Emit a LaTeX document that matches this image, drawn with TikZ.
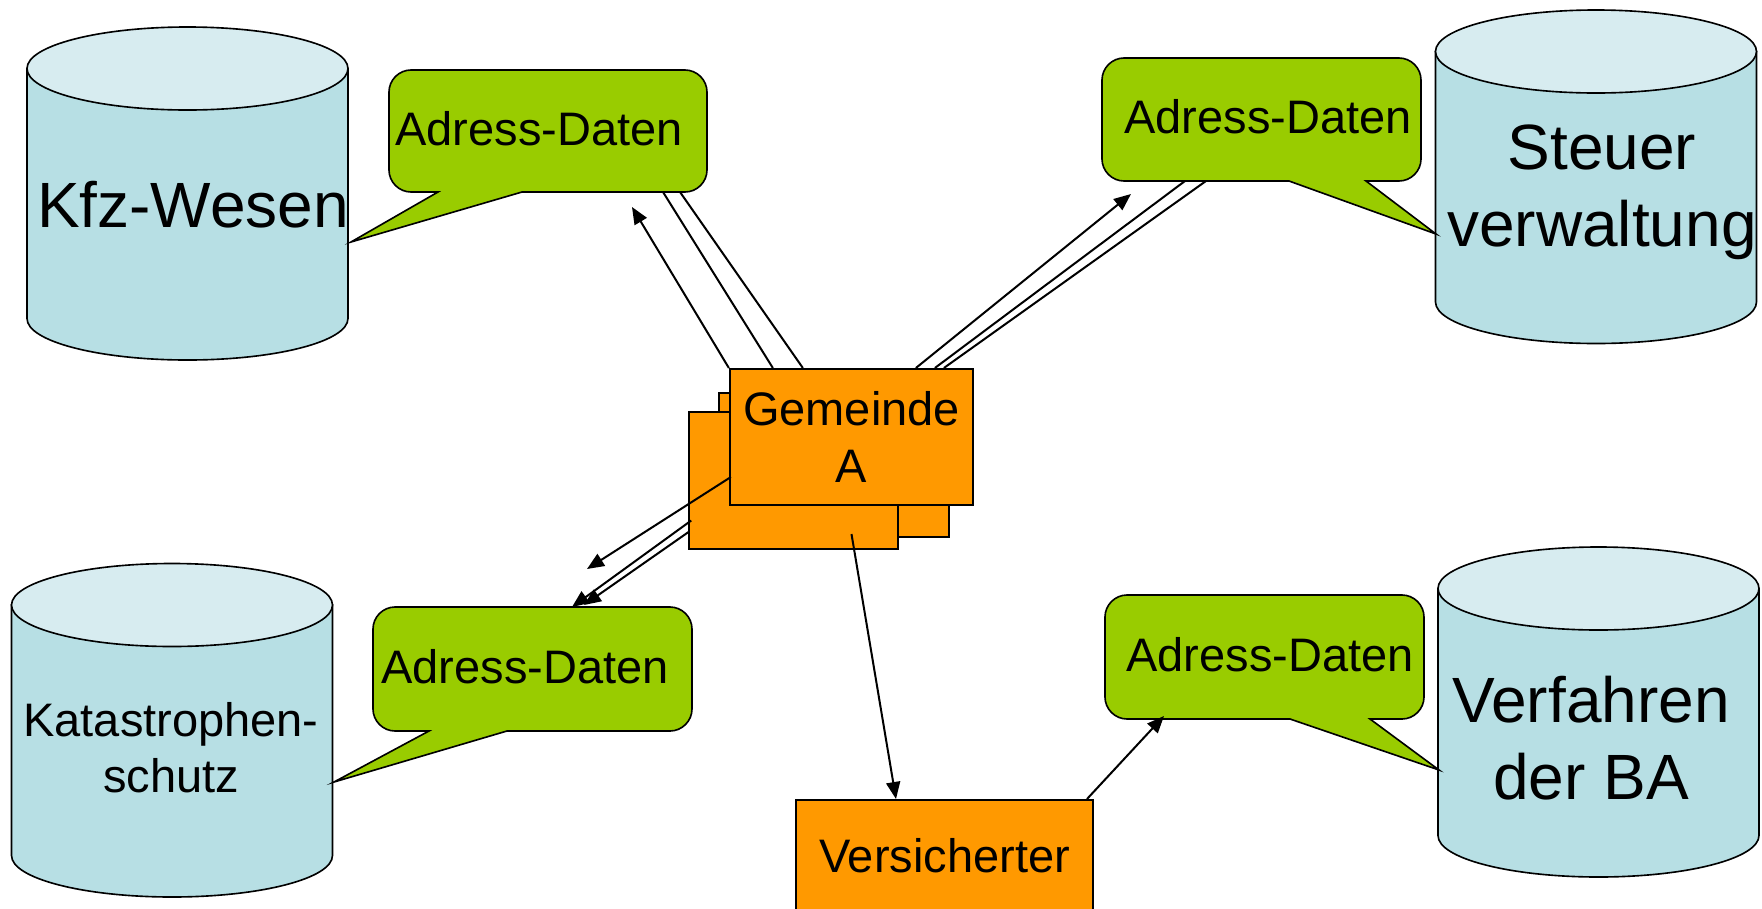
\documentclass[tikz,border=0pt]{standalone}
\usepackage{fontspec}
\setmainfont{Liberation Sans}
\usepackage{tikz}
\usetikzlibrary{calc,arrows.meta}
\definecolor{canbody}{RGB}{183,223,228}
\definecolor{cantop}{RGB}{215,236,240}
\definecolor{bubblegreen}{RGB}{153,204,0}
\definecolor{boxorange}{RGB}{255,153,0}
\tikzset{every picture/.style={line width=0.8pt}}
\tikzset{
  can body/.style={fill=canbody,draw=black,line width=0.65pt},
  can top/.style={fill=cantop,draw=black,line width=0.65pt},
  bubble/.style={fill=bubblegreen,draw=black,line width=0.65pt},
  gembox/.style={rectangle,fill=boxorange,draw=black,inner sep=0pt,align=center,font=\fontsize{18.8}{22.8}\selectfont},
  big text/.style={inner sep=0pt,align=center,font=\fontsize{25.6}{30.8}\selectfont},
  small text/.style={inner sep=0pt,align=center,font=\fontsize{18.8}{22.4}\selectfont},
  wire/.style={draw=black},
  wire arrow/.style={draw=black,-{Triangle[length=6.8pt,width=5.6pt]}},
}

\begin{document}
\begin{tikzpicture}[x=0.4pt,y=0.4pt,yscale=-1,xscale=1]

\useasboundingbox (0,0) rectangle (1762,908);

%Shape: Can
                \draw [can body] (27,68.5) -- (27,318.5) .. controls (27,341.42) and (98.86,360) .. (187.5,360) .. controls (276.14,360) and (348,341.42) .. (348,318.5) -- (348,68.5) -- cycle ;
                \draw [can top] (348,68.5) .. controls (348,91.42) and (276.14,110) .. (187.5,110) .. controls (98.86,110) and (27,91.42) .. (27,68.5) .. controls (27,45.58) and (98.86,27) .. (187.5,27) .. controls (276.14,27) and (348,45.58) .. (348,68.5) -- cycle ;
%Shape: Can
                \draw [can body] (1435.5,51.5) -- (1435.5,302) .. controls (1435.5,324.92) and (1507.36,343.5) .. (1596,343.5) .. controls (1684.64,343.5) and (1756.5,324.92) .. (1756.5,302) -- (1756.5,51.5) -- cycle ;
                \draw [can top] (1756.5,51.5) .. controls (1756.5,74.42) and (1684.64,93) .. (1596,93) .. controls (1507.36,93) and (1435.5,74.42) .. (1435.5,51.5) .. controls (1435.5,28.58) and (1507.36,10) .. (1596,10) .. controls (1684.64,10) and (1756.5,28.58) .. (1756.5,51.5) -- cycle ;
%Shape: Can
                \draw [can body] (11.5,605) -- (11.5,855.5) .. controls (11.5,878.42) and (83.36,897) .. (172,897) .. controls (260.64,897) and (332.5,878.42) .. (332.5,855.5) -- (332.5,605) -- cycle ;
                \draw [can top] (332.5,605) .. controls (332.5,627.92) and (260.64,646.5) .. (172,646.5) .. controls (83.36,646.5) and (11.5,627.92) .. (11.5,605) .. controls (11.5,582.08) and (83.36,563.5) .. (172,563.5) .. controls (260.64,563.5) and (332.5,582.08) .. (332.5,605) -- cycle ;
%Shape: Can
                \draw [can body] (1438,588.5) -- (1438,835.5) .. controls (1438,858.42) and (1509.86,877) .. (1598.5,877) .. controls (1687.14,877) and (1759,858.42) .. (1759,835.5) -- (1759,588.5) -- cycle ;
                \draw [can top] (1759,588.5) .. controls (1759,611.42) and (1687.14,630) .. (1598.5,630) .. controls (1509.86,630) and (1438,611.42) .. (1438,588.5) .. controls (1438,565.58) and (1509.86,547) .. (1598.5,547) .. controls (1687.14,547) and (1759,565.58) .. (1759,588.5) -- cycle ;

%Shape: Callout
                \draw [bubble] (411,70) -- (685,70) .. controls (697,70) and (707,80) .. (707,92) -- (707,170) .. controls (707,182) and (697,192) .. (685,192) -- (522,192) -- (351,242) -- (438,192) -- (411,192) .. controls (399,192) and (389,182) .. (389,170) -- (389,92) .. controls (389,80) and (399,70) .. (411,70) -- cycle ;
%Shape: Callout
                \draw [bubble] (1124,58) -- (1399,58) .. controls (1411,58) and (1421,68) .. (1421,80) -- (1421,159) .. controls (1421,171) and (1411,181) .. (1399,181) -- (1366,181) -- (1436,234) -- (1289,181) -- (1124,181) .. controls (1112,181) and (1102,171) .. (1102,159) -- (1102,80) .. controls (1102,68) and (1112,58) .. (1124,58) -- cycle ;
%Shape: Callout
                \draw [bubble] (395,607) -- (670,607) .. controls (682,607) and (692,617) .. (692,629) -- (692,709) .. controls (692,721) and (682,731) .. (670,731) -- (507,731) -- (334,782) -- (429,731) -- (395,731) .. controls (383,731) and (373,721) .. (373,709) -- (373,629) .. controls (373,617) and (383,607) .. (395,607) -- cycle ;
%Shape: Callout
                \draw [bubble] (1127,595) -- (1402,595) .. controls (1414,595) and (1424,605) .. (1424,617) -- (1424,697) .. controls (1424,709) and (1414,719) .. (1402,719) -- (1370,719) -- (1439,770) -- (1290,719) -- (1127,719) .. controls (1115,719) and (1105,709) .. (1105,697) -- (1105,617) .. controls (1105,605) and (1115,595) .. (1127,595) -- cycle ;

% Text Node
                \node [big text] (kfzLbl) at (193,205) {Kfz-Wesen};
% Text Node
                \node [big text] (steuerLbl) at (1602,192) {Steuer\\verwaltung};
% Text Node
                \node [small text] (katLbl) at (171,748) {Katastrophen-\\schutz};
% Text Node
                \node [big text] (baLbl) at (1591,738) {Verfahren\\der BA};
% Text Node
                \node [small text] (datKfz) at (539,129) {Adress-Daten};
% Text Node
                \node [small text] (datSteuer) at (1268,117) {Adress-Daten};
% Text Node
                \node [small text] (datKat) at (525,667) {Adress-Daten};
% Text Node
                \node [small text] (datBA) at (1270,655) {Adress-Daten};

%Shape: Rectangle
                \node [gembox, minimum width=92pt, minimum height=57.6pt] (gemB) at (834,465) {};
%Shape: Rectangle
                \node [gembox, minimum width=83.4pt, minimum height=54.8pt] (gemC) at (793.5,480.5) {};
%Shape: Rectangle
                \node [gembox, minimum width=97.3pt, minimum height=54.4pt] (gemA) at (851.5,437) {Gemeinde\\A};
%Shape: Rectangle
                \node [gembox, minimum width=118.8pt, minimum height=44.8pt] (vers) at (944.5,856) {Versicherter};

% free ends
                \coordinate (kfzTip) at (632,207);
                \coordinate (kfzEndA) at (663,192);
                \coordinate (kfzEndB) at (680,192);
                \coordinate (steuerTip) at (1131,194);
                \coordinate (steuerEndA) at (1185,181);
                \coordinate (steuerEndB) at (1206,181);
                \coordinate (katTip) at (587,569);
                \coordinate (katTipA) at (572,607);
                \coordinate (katTipB) at (584,605);
                \coordinate (baTip) at (1164,716);

%Straight Lines
                \draw [wire arrow] (gemA.north west) -- (kfzTip);
                \draw [wire] ($(gemA.north west)+(44,0)$) -- (kfzEndA);
                \draw [wire] ($(gemA.north west)+(74,0)$) -- (kfzEndB);
%Straight Lines
                \draw [wire arrow] ($(gemA.north west)+(187,0)$) -- (steuerTip);
                \draw [wire] ($(gemA.north west)+(206,0)$) -- (steuerEndA);
                \draw [wire] ($(gemA.north west)+(215,0)$) -- (steuerEndB);
%Straight Lines
                \draw [wire arrow] ($(gemA.west)+(2,40)$) -- (katTip);
                \draw [wire arrow] ($(gemC.west)+(3,40)$) -- (katTipA);
                \draw [wire arrow] ($(gemC.west)+(1,51)$) -- (katTipB);
%Straight Lines
                \draw [wire arrow] ($(gemC.south)+(58,-16)$) -- ($(vers.north west)+(101,0)$);
                \draw [wire arrow] ($(vers.north east)+(-7,0)$) -- (baTip);

\end{tikzpicture}
\end{document}
